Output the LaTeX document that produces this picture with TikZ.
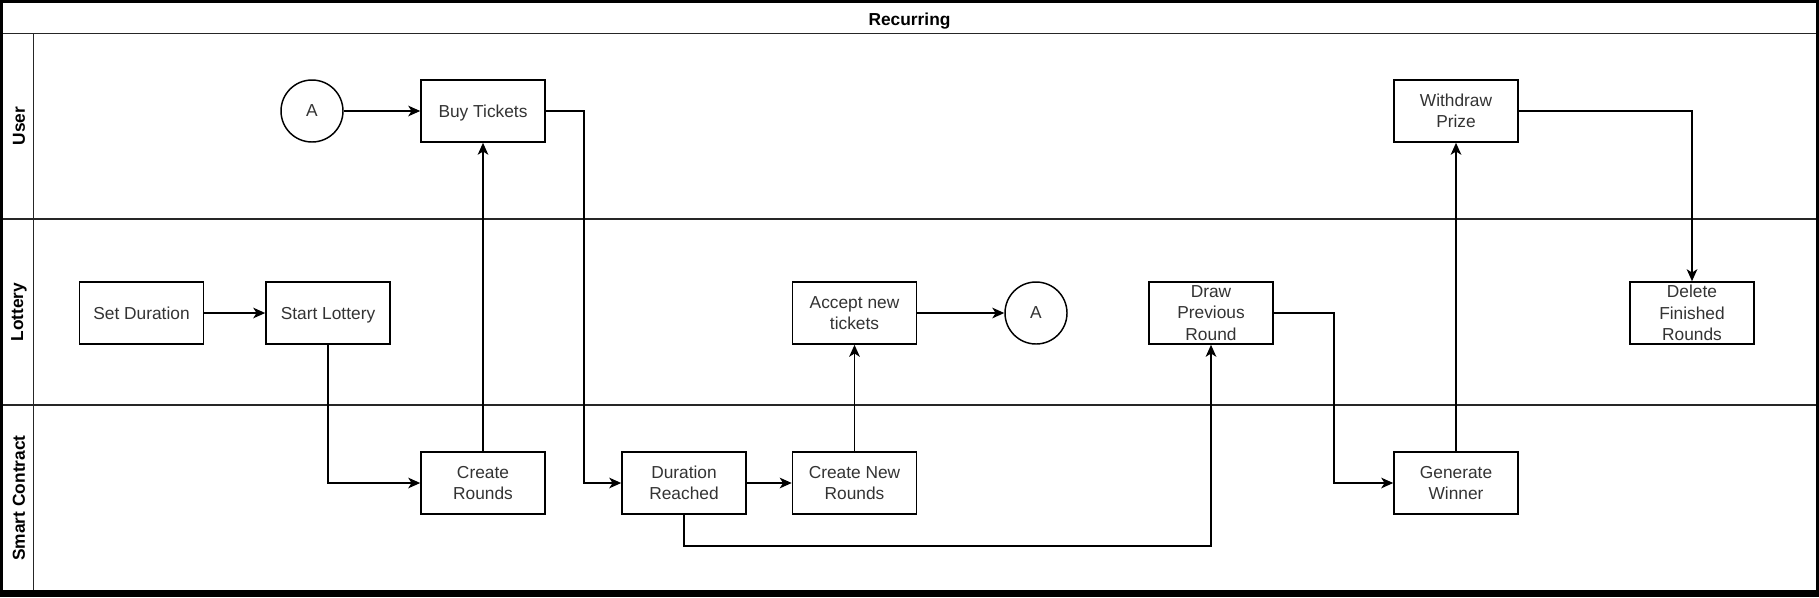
\documentclass[tikz,border=0pt]{standalone}
\usepackage{fontspec}
\setmainfont{Liberation Sans}
\usetikzlibrary{arrows.meta}
\definecolor{txt}{HTML}{333333}
\begin{document}
\begin{tikzpicture}[x=0.75pt,y=-0.75pt,
  box/.style={draw=black,line width=1.2pt,fill=white,minimum width=93pt,minimum height=46.5pt,inner sep=1pt,align=center,text depth=0pt,font=\fontsize{13}{16}\selectfont,text=txt},
  circ/.style={circle,draw=black,line width=1.1pt,fill=white,minimum size=46.5pt,inner sep=0pt,font=\fontsize{13}{16}\selectfont,text=txt},
  arr/.style={draw=black,line width=1.1pt,-{Stealth[length=9pt,width=8pt,inset=2.5pt]}},
  lane/.style={line width=1.3pt,draw=black!85},
  lbl/.style={font=\bfseries\fontsize{13}{16}\selectfont,text=black}]
\useasboundingbox (0,0) rectangle (1819,597);
\fill[black] (0,0) rectangle (1819,597);
\fill[white] (3,3) rectangle (1816,590);
% lanes
\draw[lane] (3,33.5) -- (1816,33.5);
\draw[lane] (3,219) -- (1816,219);
\draw[lane] (3,405) -- (1816,405);
\draw[lane] (33.5,33.5) -- (33.5,590);
\node[lbl] (title) at (909.5,21) {Recurring};
\node[lbl,rotate=90] (luser) at (19,126) {User};
\node[lbl,rotate=90] (llot) at (19,312) {Lottery};
\node[lbl,rotate=90] (lsc) at (19,498) {Smart Contract};
% nodes
\node[circ] (A1) at (312,111) {A};
\node[box] (buy) at (483,111) {Buy Tickets};
\node[box] (wp) at (1456,111) {Withdraw\\Prize};
\node[box] (sd) at (141.5,313) {Set Duration};
\node[box] (sl) at (328,313) {Start Lottery};
\node[box] (ant) at (854.5,313) {Accept new\\tickets};
\node[circ] (A2) at (1036,313) {A};
\node[box] (dp) at (1211,313) {Draw\\Previous\\Round};
\node[box] (df) at (1692,313) {Delete\\Finished\\Rounds};
\node[box] (cr) at (483,483) {Create\\Rounds};
\node[box] (dr) at (684,483) {Duration\\Reached};
\node[box] (cnr) at (854.5,483) {Create New\\Rounds};
\node[box] (gw) at (1456,483) {Generate\\Winner};
% connectors
\draw[arr] (A1) -- (buy);
\draw[arr] (cr) -- (buy);
\draw[arr] (buy.east) -- ++(38,0) |- (dr.west);
\draw[arr] (sd) -- (sl);
\draw[arr] (sl.south) |- (cr.west);
\draw[arr] (dr) -- (cnr);
\draw[arr] (cnr) -- (ant);
\draw[arr] (ant) -- (A2);
\draw[arr] (dr.south) -- ++(0,31) -| (dp.south);
\draw[arr] (dp.east) -- ++(60,0) |- (gw.west);
\draw[arr] (gw) -- (wp);
\draw[arr] (wp.east) -| (df.north);
\end{tikzpicture}
\end{document}
